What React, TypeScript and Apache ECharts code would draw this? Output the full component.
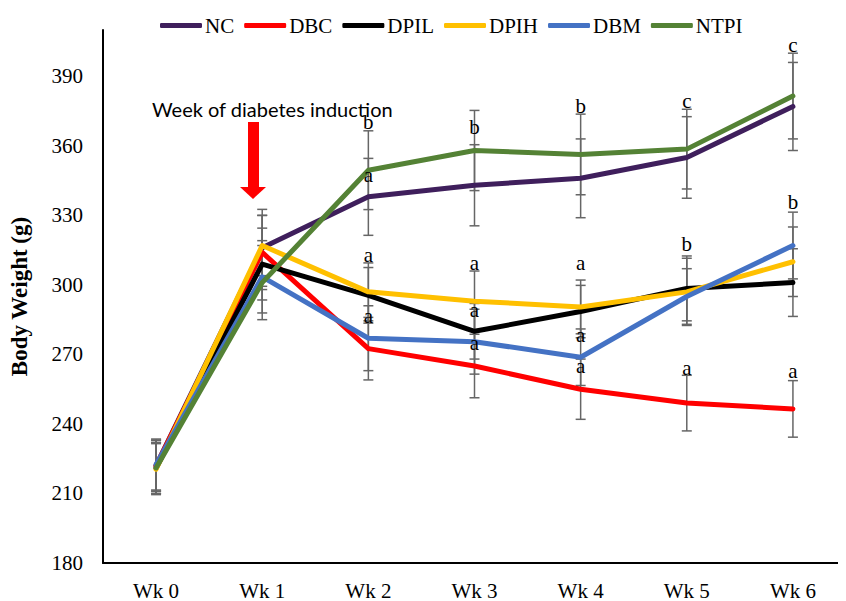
import React, { useEffect, useRef } from "react";
import * as echarts from "echarts";

const weeks = ["Wk 0", "Wk 1", "Wk 2", "Wk 3", "Wk 4", "Wk 5", "Wk 6"];

const seriesNames = ["NC", "DBC", "DPIL", "DPIH", "DBM", "NTPI"];
const seriesColors = ["#3f1f5c", "#ff0000", "#000000", "#ffc000", "#4472c4", "#548235"];

const ncValues = [222, 316, 338, 343, 346, 355, 377];
const dbcValues = [222, 314, 272.5, 265, 255, 249, 246.5];
const dpilValues = [221, 309, 295.5, 280, 288.5, 298.5, 301];
const dpihValues = [220.5, 317, 297, 293, 290.5, 297, 310];
const dbmValues = [222.5, 303.5, 277, 275.5, 268.8, 295, 317];
const ntpiValues = [221, 301, 349.5, 358, 356.3, 358.6, 381.5];

const ncErrors = [11, 16.6, 16.6, 17.5, 17, 17.6, 19];
const dbcErrors = [11, 16, 13.5, 13.7, 13, 12, 12.2];
const dpilErrors = [11, 15.5, 12, 12, 11.3, 14, 14.6];
const dpihErrors = [11, 13, 12.5, 13, 11.6, 14.5, 15];
const dbmErrors = [11, 15.6, 14, 14, 12.2, 12, 14.4];
const ntpiErrors = [11, 16, 17, 17.3, 17.4, 17.2, 18.5];

// significance letters: [week index, value position, letter]
const letterWeeks = [2, 2, 2, 2, 3, 3, 3, 3, 4, 4, 4, 4, 5, 5, 5, 6, 6, 6];
const letterValues = [370.2, 347.5, 312.7, 286.5, 368.1, 309.3, 289.1, 274.9, 377.2, 309.3, 278.5, 264.9, 379.4, 317.8, 264.2, 403.7, 335.9, 262.9];
const letterTexts = ["b", "a", "a", "a", "b", "a", "a", "a", "b", "a", "a", "a", "c", "b", "a", "c", "b", "a"];

const yTicks = [180, 210, 240, 270, 300, 330, 360, 390];

const allValues = [ncValues, dbcValues, dpilValues, dpihValues, dbmValues, ntpiValues];
const allErrors = [ncErrors, dbcErrors, dpilErrors, dpihErrors, dbmErrors, ntpiErrors];

const SERIF = "Liberation Serif";

export default function App() {
  const ref = useRef<HTMLDivElement>(null);
  useEffect(() => {
    if (!ref.current) return;
    const chart = echarts.init(ref.current, null, { renderer: "svg" });

    const errorSeries = allValues.map((vals, si) => ({
      type: "custom",
      z: 1,
      silent: true,
      encode: { x: 0, y: [1, 2] },
      data: vals.map((v, i) => [i, v - allErrors[si][i], v + allErrors[si][i]]),
      renderItem: (params: any, api: any) => {
        const x = api.value(0);
        const top = api.coord([x, api.value(2)]);
        const bot = api.coord([x, api.value(1)]);
        const hw = 5;
        const st = { stroke: "#666666", lineWidth: 1.5 };
        return {
          type: "group",
          children: [
            { type: "line", shape: { x1: top[0], y1: top[1], x2: bot[0], y2: bot[1] }, style: st },
            { type: "line", shape: { x1: top[0] - hw, y1: top[1], x2: top[0] + hw, y2: top[1] }, style: st },
            { type: "line", shape: { x1: bot[0] - hw, y1: bot[1], x2: bot[0] + hw, y2: bot[1] }, style: st },
          ],
        };
      },
    }));

    const lineSeries = allValues.map((vals, si) => ({
      name: seriesNames[si],
      type: "line",
      z: 2 + si * 0.01,
      data: vals,
      showSymbol: false,
      symbol: "none",
      color: seriesColors[si],
      lineStyle: { width: 5, color: seriesColors[si], cap: "round", join: "round" },
    }));

    const letterSeries = {
      type: "custom",
      z: 5,
      silent: true,
      encode: { x: 0, y: 1 },
      data: letterWeeks.map((w, i) => [w, letterValues[i]]),
      renderItem: (params: any, api: any) => {
        const p = api.coord([api.value(0), api.value(1)]);
        return {
          type: "text",
          x: p[0],
          y: p[1],
          style: {
            text: letterTexts[params.dataIndex],
            fontFamily: SERIF,
            fontSize: 21,
            fill: "#000",
            align: "center",
            verticalAlign: "middle",
          },
        };
      },
    };

    chart.setOption({
      animation: false,
      backgroundColor: "#fff",
      textStyle: { fontFamily: SERIF },
      grid: { left: 100, right: 0, top: 30, bottom: 35, containLabel: false },
      legend: {
        data: seriesNames,
        left: 155,
        top: 10,
        icon: "roundRect",
        itemWidth: 42,
        itemHeight: 5,
        itemGap: 10,
        textStyle: { fontFamily: SERIF, fontSize: 21, color: "#000", padding: [0, 0, 0, -2] },
      },
      xAxis: {
        type: "category",
        data: weeks,
        boundaryGap: true,
        axisLine: { lineStyle: { color: "#000", width: 2 } },
        axisTick: { show: false },
        axisLabel: { fontFamily: SERIF, fontSize: 21, color: "#000", margin: 17 },
        splitLine: { show: false },
      },
      yAxis: {
        type: "value",
        min: 180,
        max: 410,
        interval: 30,
        name: "Body Weight (g)",
        nameLocation: "middle",
        nameGap: 72,
        nameTextStyle: { fontFamily: SERIF, fontSize: 23, fontWeight: "bold", color: "#000" },
        axisLine: { show: true, lineStyle: { color: "#000", width: 2 } },
        axisTick: { show: false },
        splitLine: { show: false },
        axisLabel: {
          fontFamily: SERIF,
          fontSize: 21,
          color: "#000",
          margin: 20,
          formatter: (v: number) => (yTicks.indexOf(v) >= 0 ? String(v) : ""),
        },
      },
      graphic: [
        {
          type: "text",
          left: 152,
          top: 99,
          style: {
            text: "Week of diabetes induction",
            fontFamily: "Lato",
            fontSize: 20,
            fill: "#000",
          },
        },
        { type: "rect", shape: { x: 248, y: 122, width: 11, height: 66 }, style: { fill: "#ff0000" } },
        {
          type: "polygon",
          shape: { points: [[240, 187], [266, 187], [253, 199]] },
          style: { fill: "#ff0000" },
        },
      ],
      series: [...errorSeries, ...lineSeries, letterSeries],
    });
    return () => chart.dispose();
  }, []);
  return <div ref={ref} style={{ width: 846, height: 601, marginLeft: -8, marginTop: -8 }} />;
}
